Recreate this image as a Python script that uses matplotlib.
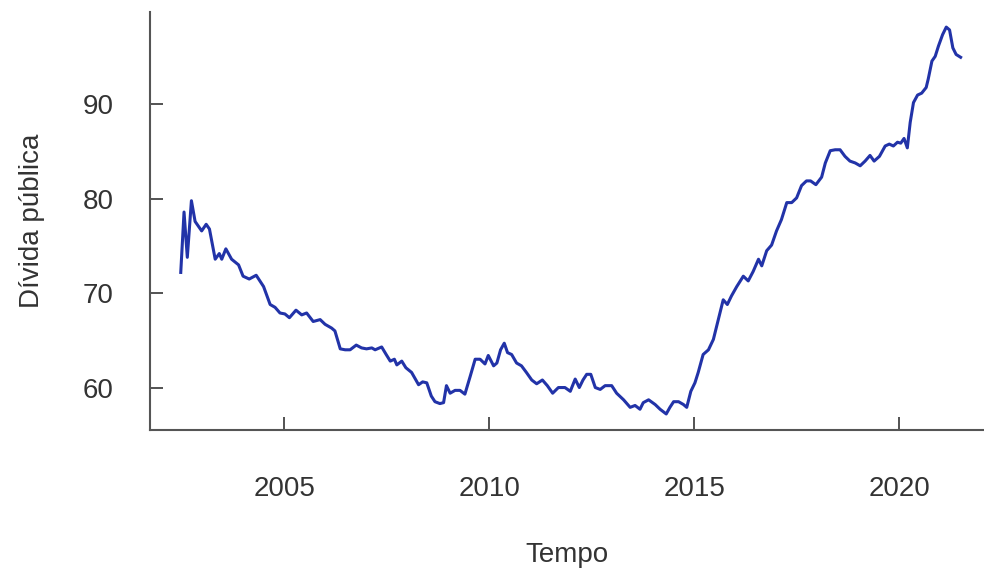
import matplotlib
matplotlib.use("Agg")
import matplotlib.pyplot as plt

# monthly-ish readings of gross public debt (% GDP)
years = [
    2002.48, 2002.56, 2002.64, 2002.74, 2002.83, 2002.99, 2003.10, 2003.18,
    2003.32, 2003.42, 2003.48, 2003.58, 2003.72, 2003.89, 2004.00, 2004.15,
    2004.32, 2004.50, 2004.66, 2004.78, 2004.90, 2005.02, 2005.13, 2005.29,
    2005.43, 2005.55, 2005.71, 2005.88, 2006.00, 2006.16, 2006.24, 2006.37,
    2006.49, 2006.61, 2006.76, 2006.89, 2007.01, 2007.14, 2007.22, 2007.38,
    2007.49, 2007.59, 2007.69, 2007.75, 2007.87, 2007.97, 2008.11, 2008.28,
    2008.38, 2008.48, 2008.59, 2008.68, 2008.80, 2008.89, 2008.96, 2009.05,
    2009.17, 2009.29, 2009.41, 2009.54, 2009.66, 2009.78, 2009.90, 2009.98,
    2010.11, 2010.19, 2010.28, 2010.37, 2010.45, 2010.55, 2010.67, 2010.79,
    2010.91, 2011.04, 2011.16, 2011.30, 2011.42, 2011.55, 2011.69, 2011.85,
    2011.98, 2012.10, 2012.20, 2012.29, 2012.38, 2012.48, 2012.59, 2012.71,
    2012.83, 2012.99, 2013.11, 2013.28, 2013.44, 2013.56, 2013.68, 2013.76,
    2013.89, 2014.05, 2014.17, 2014.32, 2014.41, 2014.50, 2014.62, 2014.74,
    2014.82, 2014.92, 2015.02, 2015.10, 2015.22, 2015.35, 2015.47, 2015.59,
    2015.71, 2015.81, 2015.91, 2016.04, 2016.20, 2016.32, 2016.44, 2016.57,
    2016.65, 2016.77, 2016.89, 2017.01, 2017.13, 2017.26, 2017.38, 2017.50,
    2017.62, 2017.74, 2017.84, 2017.97, 2018.11, 2018.20, 2018.32, 2018.44,
    2018.56, 2018.68, 2018.80, 2018.93, 2019.05, 2019.17, 2019.29, 2019.39,
    2019.52, 2019.66, 2019.76, 2019.86, 2019.96, 2020.04, 2020.12, 2020.20,
    2020.27, 2020.35, 2020.45, 2020.55, 2020.66, 2020.71, 2020.80, 2020.88,
    2020.96, 2021.06, 2021.15, 2021.23, 2021.31, 2021.39, 2021.50,
]
divida = [
    72.2, 78.6, 73.8, 79.8, 77.6, 76.6, 77.3, 76.8,
    73.6, 74.2, 73.6, 74.7, 73.6, 73.0, 71.8, 71.5,
    71.9, 70.7, 68.8, 68.5, 67.9, 67.8, 67.4, 68.2,
    67.7, 67.9, 67.0, 67.2, 66.7, 66.3, 66.0, 64.1,
    64.0, 64.0, 64.5, 64.2, 64.1, 64.2, 64.0, 64.3,
    63.5, 62.8, 63.0, 62.4, 62.8, 62.1, 61.6, 60.3,
    60.6, 60.5, 59.1, 58.5, 58.3, 58.4, 60.2, 59.4,
    59.7, 59.7, 59.3, 61.2, 63.0, 63.0, 62.5, 63.4,
    62.3, 62.6, 64.0, 64.7, 63.7, 63.5, 62.6, 62.3,
    61.6, 60.8, 60.4, 60.8, 60.2, 59.4, 60.0, 60.0,
    59.6, 60.9, 60.0, 60.8, 61.4, 61.4, 60.0, 59.8,
    60.2, 60.2, 59.4, 58.7, 57.9, 58.1, 57.7, 58.4,
    58.7, 58.2, 57.7, 57.2, 57.9, 58.5, 58.5, 58.2,
    57.9, 59.6, 60.5, 61.6, 63.5, 64.0, 65.1, 67.2,
    69.3, 68.8, 69.7, 70.7, 71.8, 71.3, 72.3, 73.6,
    72.9, 74.5, 75.1, 76.6, 77.8, 79.6, 79.6, 80.1,
    81.4, 81.9, 81.9, 81.5, 82.3, 83.8, 85.1, 85.2,
    85.2, 84.5, 84.0, 83.8, 83.5, 84.0, 84.6, 84.0,
    84.5, 85.6, 85.8, 85.6, 86.0, 85.9, 86.4, 85.4,
    88.1, 90.2, 91.0, 91.2, 91.8, 92.7, 94.6, 95.1,
    96.2, 97.4, 98.2, 97.9, 96.0, 95.3, 95.0,
]
x_ticks = [2005, 2010, 2015, 2020]
y_ticks = [60, 70, 80, 90]

plt.rcParams["font.family"] = ["Liberation Sans", "DejaVu Sans"]

fig = plt.figure(figsize=(9.84, 5.72), dpi=100)
ax = fig.add_axes([150 / 984, 142 / 572, 834 / 984, 418 / 572])

ax.plot(years, divida, color="#2233a8", lw=2.2, solid_joinstyle="round")

ax.set_xlim(2001.73, 2022.07)
ax.set_ylim(55.5, 99.8)
ax.set_xticks(x_ticks)
ax.set_yticks(y_ticks)

for side in ("top", "right"):
    ax.spines[side].set_visible(False)
for side in ("left", "bottom"):
    ax.spines[side].set_color("#555555")
    ax.spines[side].set_linewidth(1.5)

ax.tick_params(axis="both", direction="in", length=9.5, width=1.3,
               color="#444444", labelsize=20, labelcolor="#333333")
ax.tick_params(axis="x", pad=33)
ax.tick_params(axis="y", pad=26)

ax.set_xlabel("Tempo", fontsize=20, color="#333333", labelpad=29)
ax.set_ylabel("Dívida pública", fontsize=20, color="#333333", labelpad=27)

fig.savefig("out.png", dpi=100)
